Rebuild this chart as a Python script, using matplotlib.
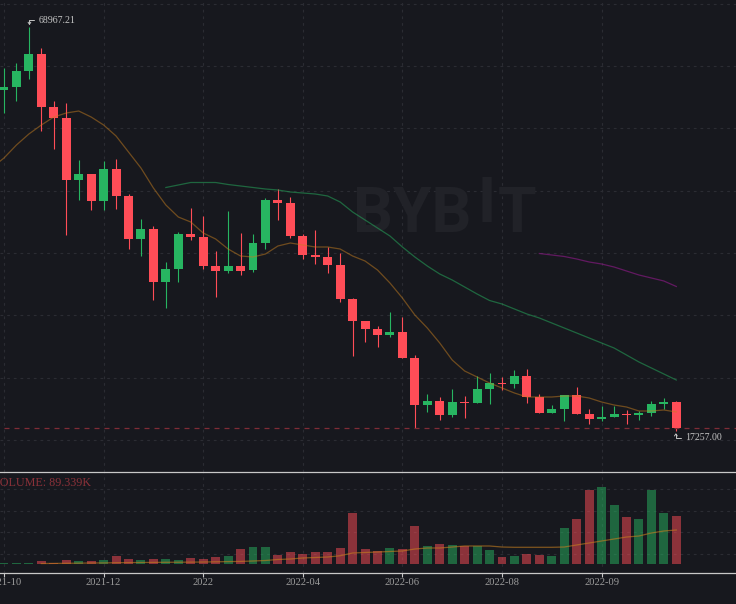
import matplotlib
matplotlib.use('Agg')
import matplotlib.pyplot as plt
from matplotlib.text import OffsetFrom
import numpy as np

# weekly candles
opens = [60859,61246,63310,65503,58666,57247,49249,50023,46540,50668,47185,41638,42928,36091,37768,
         42283,41896,38155,37510,38155,37639,41122,46669,46282,42025,39574,39316,38284,33898,31060,
         30028,29254,29641,26287,20224,20740,18934,20611,20482,22288,23062,22933,23965,21256,19192,
         19708,21514,19063,18418,18676,19063,18934,19192,20353,20611]
highs = [63697,64342,68967.21,66277,59440,59182,51829,50023,51700,51958,47443,44218,43315,38671,42541,
         45637,44605,40090,45250,42412,42283,46927,48088,47056,42283,42799,40606,39832,34027,31060,
         30415,32221,31576,26674,21643,21256,22288,21385,23965,24352,23836,24739,24868,21643,20224,
         21514,22546,19708,20095,20095,19579,19450,20740,21127,20740]
lows = [57892,59440,62278,55570,53248,42154,46669,45379,45379,45508,40348,39445,33769,32737,36091,
        41509,37768,34156,37252,36994,37381,40348,44089,41767,39058,38413,37252,33511,26545,28351,
        27706,28996,26287,17257,19321,18289,18676,18547,20482,20353,22159,22417,20482,19192,19192,
        18160,19063,17773,18160,18676,17773,18289,18805,19708,16870]
closes = [61246,63310,65503,58666,57247,49249,50023,46540,50668,47185,41638,42928,36091,37768,42283,
          41896,38155,37510,38155,37510,41122,46669,46282,42025,39574,39316,38284,33898,31060,30028,
          29254,29641,26287,20224,20740,18934,20611,20482,22288,23062,22933,23965,21256,19192,19708,
          21514,19063,18418,18676,19063,18934,19192,20353,20611,17257]

# moving averages, the orange one starts one candle left of the frame
ma_orange = [50800,52087,53764,55183,56344,57376,57892,58150,57376,56344,54925,52861,50797,48217,46024,44476,
             43831,42412,41638,40348,39445,39316,39703,40735,41122,40864,40606,40606,40348,39445,38800,
             37639,35962,34027,31834,30157,28222,26029,24610,23836,23062,22417,21772,21256,21256,21256,
             21385,21385,21127,20611,20224,19966,19450,19450,19579,19321]
ma_green = [48282,48604,48927,48927,48927,48669,48475,48282,48088,47959,47701,47572,47443,47185,46411,
            45121,44089,43057,42025,40606,39316,38155,37123,36349,35446,34543,33705,33253,32608,31963,
            31447,30802,30157,29512,28867,28222,27577,26674,25771,24997,24223,23449]
ma_purple = [39767,39574,39381,39058,38671,38413,38026,37510,36994,36607,36220,35511]

# volume in thousands
volumes = [2.8,1.3,2.8,5.6,2.8,7.4,5.6,5.6,7.4,14.9,9.3,7.4,9.3,9.3,7.4,11.2,9.3,13.0,14.9,27.9,31.6,31.6,
           16.7,22.3,18.6,22.3,22.3,29.8,94.9,27.9,24.2,29.8,27.9,70.7,33.5,37.2,35.4,33.5,33.5,26.1,13.0,
           14.9,18.6,16.7,14.9,67.0,83.7,137.7,143.3,109.8,87.5,83.7,137.7,94.9,89.339]
vol_ma = [0.9,1.1,1.3,1.5,1.9,2.0,2.4,2.6,2.8,3.0,3.2,3.3,3.5,3.7,4.1,4.5,4.8,5.6,6.5,8.4,9.3,11.2,12.1,13.0,
          15.4,20.5,21.4,22.3,23.3,24.2,27.9,29.8,29.8,31.6,33.5,33.5,33.5,31.6,31.1,31.1,31.1,31.1,31.6,
          35.4,39.1,42.8,46.5,50.2,52.1,57.7,61.4,63.3]

tick_pos = [0,8,16,24,32,40,48]
tick_labels = ['2021-10','2021-12','2022','2022-04','2022-06','2022-08','2022-09']
price_grid = [15709,23707,31770,39832,47830,55893,63955,72017]
vol_grid = [18.6,59.6,98.6,139.6]

bg = '#17181e'
red = '#ff4d57'
green = '#27b561'
gridc = '#2b2c33'
labelc = '#c4c4c4'
wm = '#212228'
serif = 'Liberation Serif'

opens = np.array(opens)
closes = np.array(closes)
x = np.arange(len(opens))
colors = [green if c >= o else red for o,c in zip(opens,closes)]

fig = plt.figure(figsize=(7.36,6.04),dpi=100,facecolor=bg)
ax = fig.add_axes([0,132.5/604,1,471.5/604],facecolor=bg)
ax2 = fig.add_axes([0,31.5/604,1,101/604],facecolor=bg)

xlim = (-4/12.45,732/12.45)

# price panel
ax.set_xlim(xlim)
ax.set_ylim(11645,72469)
ax.set_xticks(tick_pos)
ax.set_yticks(price_grid)
ax.grid(True,color=gridc,linestyle=(0,(2.5,3.5)),linewidth=0.8)
ax.set_axisbelow(True)
ax.tick_params(length=0,labelbottom=False,labelleft=False)
for s in ax.spines.values():
    s.set_visible(False)

# watermark
ax.text(0.4795,0.543,'BYB',transform=ax.transAxes,family='Roboto',weight='bold',fontsize=45,color=wm,
        ha='left',va='center',zorder=1)
ax.text(0.661,0.565,'I',transform=ax.transAxes,family='Roboto',weight='bold',fontsize=45,color=wm,
        ha='center',va='center',zorder=1)
ax.text(0.703,0.543,'T',transform=ax.transAxes,family='Roboto',weight='bold',fontsize=45,color=wm,
        ha='center',va='center',zorder=1)

ax.vlines(x,lows,highs,colors=colors,linewidth=0.8,zorder=2)
ax.bar(x,np.abs(closes-opens),bottom=np.minimum(opens,closes),width=0.72,color=colors,linewidth=0,zorder=3)

ax.plot(np.arange(-1,len(opens)),ma_orange,color='#c77f1e',alpha=0.5,linewidth=0.9,zorder=4)
ax.plot(x[13:],ma_green,color=green,alpha=0.5,linewidth=0.9,zorder=4)
ax.plot(x[43:],ma_purple,color='#a01a98',alpha=0.55,linewidth=0.9,zorder=4)

# last price line
ax.hlines(17257,0,xlim[1],colors='#7f2c36',linestyles=(0,(4,4)),linewidth=0.9,zorder=2)

# high and low labels with their small hooked arrows
hi_ref = OffsetFrom(ax.transData,(2,68967.21),unit='points')
lo_ref = OffsetFrom(ax.transData,(54,17257),unit='points')
ax.annotate('68967.21',xy=(7,5),xycoords=hi_ref,family=serif,fontsize=7.1,color=labelc,va='center',ha='left')
ax.annotate('17257.00',xy=(6.2,-6.5),xycoords=lo_ref,family=serif,fontsize=7.1,color=labelc,va='center',ha='left')
ax.annotate('',xy=(0.4,1.4),xycoords=hi_ref,xytext=(3.6,5),textcoords=hi_ref,
            arrowprops=dict(arrowstyle='->,head_length=0.15,head_width=0.1',color=labelc,linewidth=0.7,shrinkA=0,shrinkB=0,
                            connectionstyle='angle,angleA=0,angleB=90,rad=0'))
ax.annotate('',xy=(-0.3,-3.6),xycoords=lo_ref,xytext=(3.3,-7.2),textcoords=lo_ref,
            arrowprops=dict(arrowstyle='->,head_length=0.15,head_width=0.1',color=labelc,linewidth=0.7,shrinkA=0,shrinkB=0,
                            connectionstyle='angle,angleA=0,angleB=90,rad=0'))

# volume panel
ax2.set_xlim(xlim)
ax2.set_ylim(-15.8,172.1)
ax2.set_yticks(vol_grid)
ax2.grid(True,color=gridc,linestyle=(0,(2.5,3.5)),linewidth=0.8)
ax2.set_axisbelow(True)
ax2.bar(x,volumes,width=0.72,color=colors,alpha=0.5,linewidth=0,zorder=3)
ax2.plot(x[3:],vol_ma,color='#c77f1e',alpha=0.6,linewidth=0.9,zorder=4)
ax2.set_xticks(tick_pos)
ax2.set_xticklabels(tick_labels,family=serif,fontsize=7.6,color='#9b9b9b')
ax2.tick_params(axis='x',length=3,width=0.8,color='#c8c8c8',pad=1.2)
ax2.tick_params(axis='y',length=0,labelleft=False)
for s in ['left','right']:
    ax2.spines[s].set_visible(False)
for s in ['top','bottom']:
    ax2.spines[s].set_color('#c8c8c8')
    ax2.spines[s].set_linewidth(0.9)
ax2.text(-0.012,0.885,'VOLUME: 89.339K',transform=ax2.transAxes,family=serif,fontsize=8.7,color='#8b3139',
         ha='left',va='center')

fig.savefig('out.png',dpi=100,facecolor=bg)
